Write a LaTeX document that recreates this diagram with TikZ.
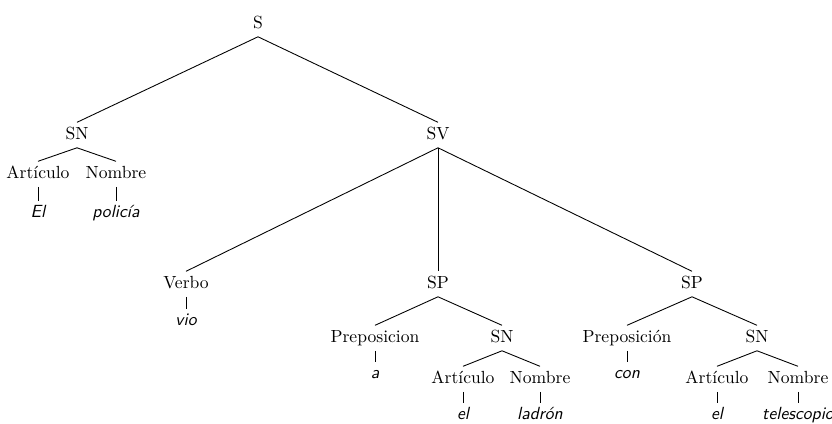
\documentclass[tikz,border=0pt]{standalone}
\usepackage{tikz}
\usetikzlibrary{positioning}
\tikzset{
  cat/.style  ={anchor=base,inner sep=0pt,text height=7pt,text depth=2.5pt,outer ysep=2.5pt},
  word/.style ={anchor=base,inner sep=0pt,font=\sffamily\itshape,text height=7pt,text depth=2.5pt,outer ysep=2pt},
  br/.style   ={line width=0.5pt},
}

\begin{document}
\begin{tikzpicture}[x=0.02cm,y=-0.02cm]
  \useasboundingbox (0,0) rectangle (832,423);
  % top level
  \node[cat] (S)   at (258,28)  {S};
  \node[cat] (SN1) at (77,139)  {SN};
  \node[cat] (SV)  at (438,139) {SV};
  % sujeto
  \node[cat]  (art1) at (38,178)  {Art\'{\i}culo};
  \node[cat]  (nom1) at (116,178) {Nombre};
  \node[word] (el1)  at (38,217)  {El};
  \node[word] (policia) at (116,217) {polic\'{\i}a};
  % predicado
  \node[cat]  (verbo) at (186,288) {Verbo};
  \node[word] (vio)   at (186,325) {vio};
  \node[cat]  (SP1)   at (438,288) {SP};
  \node[cat]  (SP2)   at (692,288) {SP};
  % primer SP
  \node[cat]  (prep1) at (375,342) {Preposicion};
  \node[word] (a)     at (375,378) {a};
  \node[cat]  (SN2)   at (502,342) {SN};
  \node[cat]  (art2)  at (463,383) {Art\'{\i}culo};
  \node[cat]  (nom2)  at (540,383) {Nombre};
  \node[word] (el2)   at (463,419) {el};
  \node[word] (ladron) at (540,419) {ladr\'on};
  % segundo SP
  \node[cat]  (prep2) at (627,342) {Preposici\'on};
  \node[word] (con)   at (627,378) {con};
  \node[cat]  (SN3)   at (757,342) {SN};
  \node[cat]  (art3)  at (717,383) {Art\'{\i}culo};
  \node[cat]  (nom3)  at (798,383) {Nombre};
  \node[word] (el3)   at (717,419) {el};
  \node[word] (telescopio) at (798,419) {telescopio};

  % ramas
  \draw[br] (S.south) -- (SN1.north);
  \draw[br] (S.south) -- (SV.north);
  \draw[br] (SN1.south) -- (art1.north);
  \draw[br] (SN1.south) -- (nom1.north);
  \draw[br] (art1.south) -- (el1.north);
  \draw[br] (nom1.south) -- (policia.north);
  \draw[br] (SV.south) -- (verbo.north);
  \draw[br] (SV.south) -- (SP1.north);
  \draw[br] (SV.south) -- (SP2.north);
  \draw[br] (verbo.south) -- (vio.north);
  \draw[br] (SP1.south) -- (prep1.north);
  \draw[br] (SP1.south) -- (SN2.north);
  \draw[br] (prep1.south) -- (a.north);
  \draw[br] (SN2.south) -- (art2.north);
  \draw[br] (SN2.south) -- (nom2.north);
  \draw[br] (art2.south) -- (el2.north);
  \draw[br] (nom2.south) -- (ladron.north);
  \draw[br] (SP2.south) -- (prep2.north);
  \draw[br] (SP2.south) -- (SN3.north);
  \draw[br] (prep2.south) -- (con.north);
  \draw[br] (SN3.south) -- (art3.north);
  \draw[br] (SN3.south) -- (nom3.north);
  \draw[br] (art3.south) -- (el3.north);
  \draw[br] (nom3.south) -- (telescopio.north);
\end{tikzpicture}
\end{document}
